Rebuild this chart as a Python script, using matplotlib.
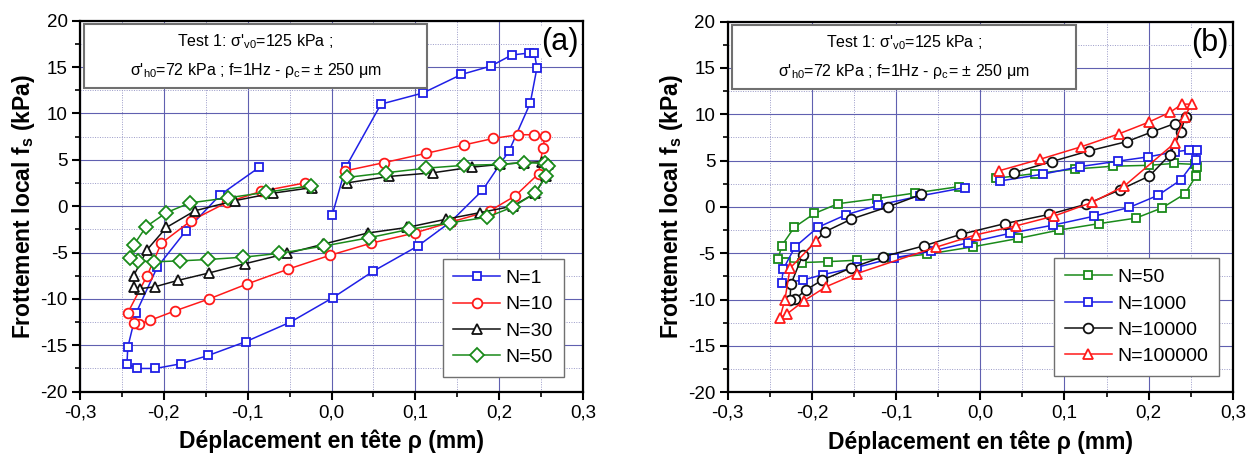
import matplotlib
matplotlib.use('Agg')
import matplotlib.pyplot as plt
from matplotlib.patches import Rectangle
from matplotlib.ticker import FuncFormatter, MultipleLocator

plt.rcParams['font.family'] = ['Liberation Sans', 'DejaVu Sans']
plt.rcParams['mathtext.default'] = 'regular'

# ---- panel (a) : cycles N = 1, 10, 30, 50 ----
n1_x = [0.001, 0.017, 0.059, 0.109, 0.155, 0.190, 0.215, 0.235, 0.242, 0.245, 0.237, 0.212, 0.180, 0.142,
        0.103, 0.050, 0.002, -0.049, -0.102, -0.147, -0.180, -0.210, -0.232, -0.244, -0.243, -0.233, -0.208,
        -0.174, -0.133, -0.086]
n1_y = [-0.9, 4.2, 11.0, 12.2, 14.2, 15.1, 16.3, 16.5, 16.5, 14.9, 11.1, 6.0, 1.7, -1.7,
        -4.3, -7.0, -9.85, -12.5, -14.6, -16.1, -17.0, -17.5, -17.5, -17.0, -15.2, -11.5, -6.6,
        -2.7, 1.2, 4.2]

n10_x = [0.016, 0.063, 0.113, 0.158, 0.193, 0.222, 0.241, 0.255, 0.252, 0.247, 0.219, 0.189, 0.143, 0.099,
         0.047, -0.002, -0.052, -0.101, -0.146, -0.187, -0.216, -0.230, -0.236, -0.243, -0.220, -0.203,
         -0.168, -0.125, -0.084, -0.032]
n10_y = [3.8, 4.7, 5.7, 6.6, 7.3, 7.7, 7.7, 7.6, 6.3, 3.5, 1.1, -0.5, -1.7, -2.9,
         -4.0, -5.3, -6.8, -8.4, -10.0, -11.3, -12.3, -12.7, -12.6, -11.5, -7.5, -4.0,
         -1.6, 0.4, 1.6, 2.5]

n30_x = [0.018, 0.068, 0.121, 0.167, 0.201, 0.229, 0.251, 0.258, 0.256, 0.243, 0.216, 0.177, 0.137, 0.090,
         0.043, -0.010, -0.053, -0.103, -0.146, -0.183, -0.211, -0.229, -0.236, -0.236, -0.220, -0.197,
         -0.163, -0.115, -0.070, -0.023]
n30_y = [2.5, 3.2, 3.6, 4.2, 4.5, 4.7, 4.8, 4.5, 3.3, 1.4, 0.0, -0.7, -1.4, -2.3,
         -2.9, -4.1, -5.1, -6.2, -7.2, -8.0, -8.7, -8.9, -8.7, -7.5, -4.7, -2.3,
         -0.5, 0.6, 1.4, 2.0]

n50_x = [0.019, 0.065, 0.113, 0.158, 0.201, 0.230, 0.255, 0.258, 0.256, 0.243, 0.216, 0.185, 0.141, 0.093,
         0.045, -0.009, -0.063, -0.105, -0.147, -0.181, -0.212, -0.231, -0.240, -0.236, -0.221, -0.197,
         -0.169, -0.123, -0.078, -0.025]
n50_y = [3.1, 3.6, 4.1, 4.4, 4.5, 4.7, 4.6, 4.35, 3.3, 1.4, -0.1, -1.2, -1.8, -2.5,
         -3.4, -4.3, -5.1, -5.5, -5.75, -5.9, -6.0, -5.9, -5.6, -4.2, -2.2, -0.7,
         0.35, 0.9, 1.5, 2.2]

# ---- panel (b) : cycles N = 50, 1000, 10000, 100000 ----
n1000_x = [0.023, 0.075, 0.118, 0.164, 0.199, 0.231, 0.248, 0.258, 0.256, 0.238, 0.211, 0.177, 0.135, 0.087,
           0.035, -0.014, -0.059, -0.103, -0.146, -0.187, -0.211, -0.236, -0.234, -0.220, -0.193, -0.160,
           -0.121, -0.071, -0.018]
n1000_y = [2.8, 3.55, 4.35, 4.95, 5.4, 5.95, 6.15, 6.15, 5.1, 2.9, 1.25, -0.05, -1.0, -1.95,
           -2.85, -3.85, -4.8, -5.5, -6.5, -7.3, -7.9, -8.2, -6.7, -4.3, -2.2, -0.86,
           0.2, 1.2, 2.1]

n10000_x = [0.040, 0.085, 0.129, 0.174, 0.204, 0.231, 0.244, 0.238, 0.225, 0.201, 0.166, 0.126, 0.082, 0.029,
            -0.023, -0.067, -0.115, -0.154, -0.188, -0.207, -0.220, -0.226, -0.225, -0.211, -0.185, -0.153,
            -0.110, -0.070]
n10000_y = [3.7, 4.9, 6.05, 7.05, 8.1, 9.0, 9.75, 8.1, 5.6, 3.35, 1.85, 0.3, -0.8, -1.8,
            -2.95, -4.2, -5.35, -6.6, -7.9, -8.95, -9.95, -10.0, -8.35, -5.2, -2.7, -1.3,
            0.0, 1.35]

n100000_x = [0.022, 0.071, 0.120, 0.165, 0.200, 0.225, 0.240, 0.251, 0.243, 0.231, 0.171, 0.133, 0.088, 0.042,
             -0.005, -0.053, -0.147, -0.183, -0.209, -0.229, -0.238, -0.232, -0.226, -0.195]
n100000_y = [3.9, 5.15, 6.5, 7.9, 9.15, 10.2, 11.1, 11.1, 9.75, 6.9, 2.25, 0.5, -0.97, -2.05,
             -3.0, -4.35, -7.2, -8.6, -10.1, -11.5, -11.95, -10.0, -6.6, -3.7]

BLUE, RED, BLACK, GREEN = '#1f1fe6', '#ff1a1a', '#111111', '#1a8a1a'

series_a = [('N=1', n1_x, n1_y, BLUE, 's', 5.5),
            ('N=10', n10_x, n10_y, RED, 'o', 7),
            ('N=30', n30_x, n30_y, BLACK, '^', 7.5),
            ('N=50', n50_x, n50_y, GREEN, 'D', 7.2)]
series_b = [('N=50', n50_x, n50_y, GREEN, 's', 5.5),
            ('N=1000', n1000_x, n1000_y, BLUE, 's', 5.5),
            ('N=10000', n10000_x, n10000_y, BLACK, 'o', 7),
            ('N=100000', n100000_x, n100000_y, RED, '^', 7.5)]

box_line1 = "Test 1: σ'$_{v0}$=125 kPa ;"
box_line2 = "σ'$_{h0}$=72 kPa ; f=1Hz - ρ$_{c}$= ± 250 μm"


def x_fmt(v, pos):
    if abs(v) < 1e-9:
        v = 0.0
    return f'{v:.1f}'.replace('.', ',')


def style_axes(ax):
    ax.set_xlim(-0.3, 0.3)
    ax.set_ylim(-20, 20)
    ax.xaxis.set_major_locator(MultipleLocator(0.1))
    ax.xaxis.set_minor_locator(MultipleLocator(0.05))
    ax.yaxis.set_major_locator(MultipleLocator(5))
    ax.yaxis.set_minor_locator(MultipleLocator(2.5))
    ax.xaxis.set_major_formatter(FuncFormatter(x_fmt))
    ax.yaxis.set_major_formatter(FuncFormatter(lambda v, p: f'{v:g}'))
    ax.grid(which='major', color='#6060b0', lw=0.8, ls='-')
    ax.grid(which='minor', color='#9a9ac8', lw=0.7, ls=(0, (1, 1.5)))
    ax.set_axisbelow(True)
    ax.tick_params(which='major', direction='out', length=6, width=1.5, labelsize=13.5, pad=3)
    ax.tick_params(which='minor', direction='out', length=3.5, width=1.2)
    for s in ax.spines.values():
        s.set_linewidth(1.6)
    ax.set_xlabel('Déplacement en tête ρ (mm)', fontsize=16.5, fontweight='bold', labelpad=6)
    ax.set_ylabel('Frottement local f$_s$ (kPa)', fontsize=16.5, fontweight='bold', labelpad=2)


def draw_box(ax):
    ax.add_patch(Rectangle((0.008, 0.818), 0.682, 0.174, transform=ax.transAxes,
                           facecolor='white', edgecolor='#707070', lw=1.5, zorder=5))
    ax.text(0.349, 0.930, box_line1, transform=ax.transAxes, ha='center', va='baseline',
            fontsize=11.5, zorder=6)
    ax.text(0.349, 0.853, box_line2, transform=ax.transAxes, ha='center', va='baseline',
            fontsize=11.5, zorder=6)


fig = plt.figure(figsize=(12.56, 4.57), dpi=100)
ax_a = fig.add_axes([0.0637, 0.143, 0.4005, 0.8118])
ax_b = fig.add_axes([0.5794, 0.1416, 0.4021, 0.811])

for ax, series, tag, leg_anchor in [(ax_a, series_a, '(a)', (0.962, 0.040)),
                                    (ax_b, series_b, '(b)', (0.973, 0.044))]:
    style_axes(ax)
    for label, xs, ys, col, mk, ms in series:
        ax.plot(xs, ys, color=col, lw=1.1, marker=mk, ms=ms, mfc='white', mec=col, mew=1.3,
                label=label, zorder=3)
    draw_box(ax)
    ax.text(0.992, 0.982, tag, transform=ax.transAxes, ha='right', va='top', fontsize=22,
            zorder=6, bbox=dict(facecolor='white', edgecolor='none', pad=0.5))
    leg = ax.legend(loc='lower right', bbox_to_anchor=leg_anchor, borderaxespad=0, fontsize=14,
                    handlelength=2.4, handletextpad=0.3, labelspacing=0.45, fancybox=False,
                    framealpha=1, edgecolor='#707070', borderpad=0.55)
    leg.get_frame().set_linewidth(1.0)
    leg.set_zorder(7)

fig.savefig('out.png', dpi=100)
